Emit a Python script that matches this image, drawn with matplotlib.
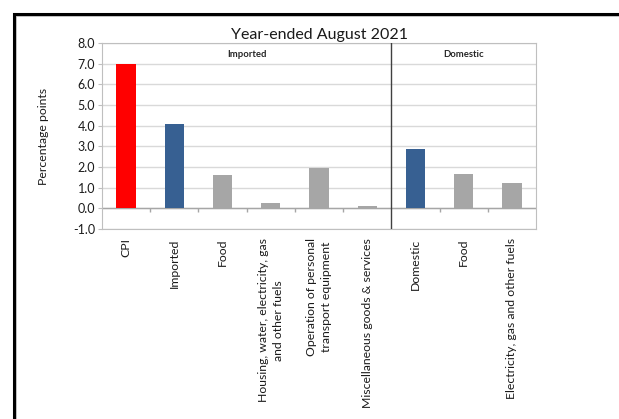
import matplotlib.pyplot as plt
import numpy as np
from matplotlib.patches import Rectangle

plt.rcParams['font.family'] = ['Lato', 'DejaVu Sans']

# data
categories = ['CPI', 'Imported', 'Food', 'Housing, water, electricity, gas\nand other fuels',
              'Operation of personal\ntransport equipment', 'Miscellaneous goods & services',
              'Domestic', 'Food', 'Electricity, gas and other fuels']
values = [7.0, 4.07, 1.59, 0.26, 1.95, 0.12, 2.85, 1.64, 1.23]
kinds = ['total', 'group', 'item', 'item', 'item', 'item', 'group', 'item', 'item']
groups = ['Imported', 'Domestic']
split_at = 6   # first domestic category

colours = {'total': '#FF0000', 'group': '#376092', 'item': '#A6A6A6'}

fig = plt.figure(figsize=(6.19, 4.19), dpi=100)
ax = fig.add_axes([0.1648, 0.4535, 0.7011, 0.4439])

x = np.arange(len(categories))
ax.bar(x, values, width=0.4, color=[colours[k] for k in kinds], zorder=3)

ax.set_xlim(-0.5, len(categories) - 0.5)
ax.set_ylim(-1, 8)
ax.set_yticks(np.arange(-1, 9, 1))
ax.set_yticklabels(['%.1f' % v for v in np.arange(-1, 9, 1)], fontsize=9, color='#1A1A1A')
ax.yaxis.grid(True, color='#D9D9D9', lw=1, zorder=0)
ax.tick_params(axis='y', length=3, color='#BFBFBF', pad=2)

# category labels below the plot
ax.set_xticks([])
for xi, lab in zip(x, categories):
    ax.text(xi, -1.45, lab, rotation=90, ha='center', va='top', multialignment='center',
            fontsize=8.8, color='#1A1A1A', linespacing=1.45)

for s in ax.spines.values():
    s.set_color('#BFBFBF')

# zero line with boundary ticks
ax.axhline(0, color='#A6A6A6', lw=1, zorder=2)
bounds = np.arange(1, len(categories)) - 0.5
bounds = bounds[bounds != split_at - 0.5]
ax.vlines(bounds, -0.18, 0, color='#A6A6A6', lw=1, zorder=2)

# group separator
ax.axvline(split_at - 0.5, color='#404040', lw=1, zorder=4)
ax.text((split_at - 1) / 2, 7.45, groups[0], ha='center', va='center', fontsize=6.8,
        fontweight='bold', color='#262626')
ax.text((split_at + len(categories) - 1) / 2, 7.45, groups[1], ha='center', va='center',
        fontsize=6.8, fontweight='bold', color='#262626')

ax.set_ylabel('Percentage points', fontsize=8.8, color='#1A1A1A', labelpad=17)
ax.set_title('Year-ended August 2021', fontsize=11.5, color='#1A1A1A', pad=3)

# frame round the whole chart
fig.patches.append(Rectangle((15.5 / 619, -0.05), 1.0, 1 - 16.5 / 419 + 0.05,
                             transform=fig.transFigure, fill=False, edgecolor='#BBBBBB',
                             lw=1.2, clip_on=False))
fig.patches.append(Rectangle((13.5 / 619, -0.05), 1.0, 1 - 14.5 / 419 + 0.05,
                             transform=fig.transFigure, fill=False, edgecolor='black',
                             lw=2.2, clip_on=False))

fig.savefig('out.png', dpi=100)
